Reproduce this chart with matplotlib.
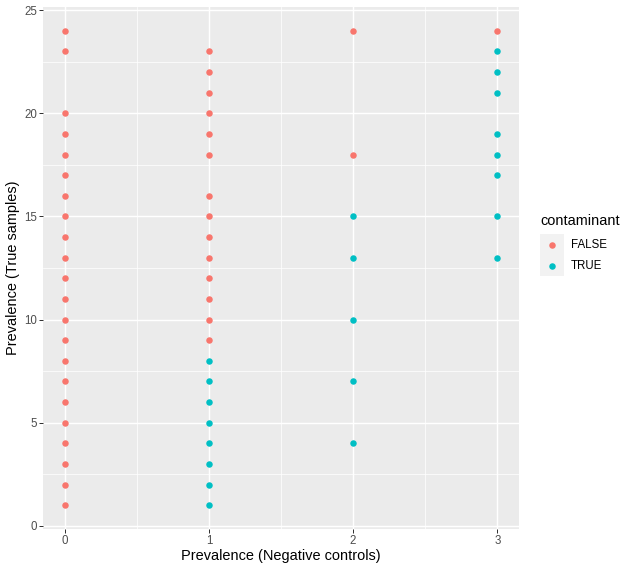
import matplotlib
matplotlib.use("Agg")
import matplotlib.pyplot as plt
from matplotlib.lines import Line2D
from matplotlib.patches import Rectangle

plt.rcParams['font.family'] = ['Liberation Sans', 'DejaVu Sans']

# prevalence in negative controls (x) and in true samples (y), split by contaminant flag
false_x = [0] * 22 + [1] * 14 + [2, 2] + [3]
false_y = [24, 23, 20, 19, 18, 17, 16, 15, 14, 13, 12, 11, 10, 9, 8, 7, 6, 5, 4, 3, 2, 1,
           23, 22, 21, 20, 19, 18, 16, 15, 14, 13, 12, 11, 10, 9,
           24, 18,
           24]
true_x = [1] * 8 + [2] * 5 + [3] * 8
true_y = [8, 7, 6, 5, 4, 3, 2, 1,
          15, 13, 10, 7, 4,
          23, 22, 21, 19, 18, 17, 15, 13]

x_ticks = [0, 1, 2, 3]
y_ticks = [0, 5, 10, 15, 20, 25]
col_false = '#F8766D'
col_true = '#00BFC4'

W, H = 635, 569
fig = plt.figure(figsize=(W / 72, H / 72), dpi=72)
ax = fig.add_axes([43 / W, 1 - 529 / H, (519 - 43) / W, (529 - 7) / H])
ax.set_facecolor('#EBEBEB')

ax.scatter(false_x, false_y, s=42, color=col_false, linewidths=0, zorder=3)
ax.scatter(true_x, true_y, s=42, color=col_true, linewidths=0, zorder=3)

ax.set_xlim(-0.15, 3.15)
ax.set_ylim(-0.15, 25.15)
ax.set_xticks(x_ticks)
ax.set_yticks(y_ticks)
ax.set_xticks([0.5, 1.5, 2.5], minor=True)
ax.set_yticks([2.5, 7.5, 12.5, 17.5, 22.5], minor=True)
ax.grid(which='major', color='white', linewidth=1.45, zorder=1)
ax.grid(which='minor', color='white', linewidth=0.72, zorder=1)
ax.set_axisbelow(True)
for s in ax.spines.values():
    s.set_visible(False)
ax.tick_params(which='major', length=3.6, width=1.0, color='#333333',
               labelsize=11.5, labelcolor='#4D4D4D', pad=2.5)
ax.tick_params(which='minor', length=0)

ax.set_xlabel('Prevalence (Negative controls)', fontsize=14.5, color='black', labelpad=2)
ax.set_ylabel('Prevalence (True samples)', fontsize=14.5, color='black', labelpad=4)

# legend drawn by hand, ggplot style
fig.text(540 / W, 1 - 221 / H, 'contaminant', fontsize=14.5, va='center', ha='left')
fig.add_artist(Rectangle((540 / W, 1 - 276 / H), 24 / W, 42 / H, transform=fig.transFigure,
                         facecolor='#F2F2F2', edgecolor='none'))
for lab, col, yp in [('FALSE', col_false, 245), ('TRUE', col_true, 266)]:
    fig.add_artist(Line2D([552 / W], [1 - yp / H], marker='o', markersize=6.5, color=col,
                          markeredgewidth=0, linestyle='', transform=fig.transFigure))
    fig.text(571 / W, 1 - yp / H, lab, fontsize=11.5, va='center', ha='left')

fig.savefig('out.png', dpi=72)
